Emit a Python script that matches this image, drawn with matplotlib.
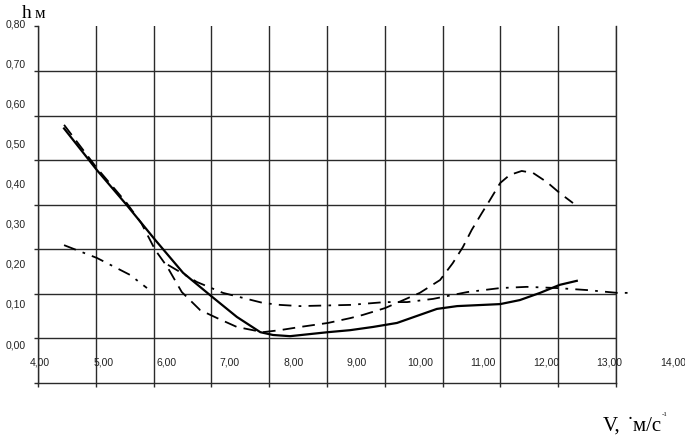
import numpy as np
import matplotlib
matplotlib.use("Agg")
import matplotlib.pyplot as plt

# ---- data ----
v_solid = [4.38, 4.90, 5.37, 5.82, 6.26, 6.72, 7.11, 7.48, 7.68, 7.95, 8.55, 8.90,
           9.26, 9.64, 10.27, 10.59, 11.27, 11.58, 11.90, 12.21, 12.48]
h_solid = [0.540, 0.436, 0.349, 0.262, 0.180, 0.120, 0.070, 0.032, 0.025, 0.022, 0.032, 0.037,
           0.045, 0.055, 0.090, 0.097, 0.102, 0.112, 0.130, 0.150, 0.160]

v_dash = [4.38, 4.90, 5.37, 5.60, 5.82, 6.01, 6.24, 6.53, 6.80, 7.11, 7.52, 7.79, 8.11,
          8.55, 8.90, 9.10, 9.45, 9.74, 10.00, 10.32, 10.52, 10.68, 10.82, 10.98, 11.11,
          11.27, 11.42, 11.61, 11.79, 12.01, 12.21, 12.42]
h_dash = [0.549, 0.441, 0.354, 0.304, 0.237, 0.195, 0.132, 0.087, 0.067, 0.045, 0.032, 0.037, 0.045,
          0.055, 0.067, 0.075, 0.092, 0.112, 0.130, 0.162, 0.204, 0.244, 0.287, 0.329, 0.362,
          0.404, 0.424, 0.434, 0.429, 0.406, 0.379, 0.354]

# dash-dot curve, broken in two pieces (nan = gap)
v_dd = [4.38, 4.90, 5.42, 5.69, np.nan, 6.02, 6.48, 6.89, 7.52, 7.79, 8.11, 8.90, 9.45,
        9.80, 10.21, 10.75, 11.27, 11.69, 12.17, 12.64, 13.12, 13.37]
h_dd = [0.249, 0.217, 0.175, 0.142, np.nan, 0.200, 0.157, 0.130, 0.105, 0.100, 0.097, 0.100, 0.107,
        0.107, 0.115, 0.132, 0.142, 0.145, 0.142, 0.137, 0.130, 0.130]

x_ticks = [4, 5, 6, 7, 8, 9, 10, 11, 12, 13, 14]
x_labels = ["4,00", "5,00", "6,00", "7,00", "8,00", "9,00", "10,00", "11,00", "12,00", "13,00", "14,00"]
y_ticks = [0.0, 0.1, 0.2, 0.3, 0.4, 0.5, 0.6, 0.7, 0.8]
y_labels = ["0,00", "0,10", "0,20", "0,30", "0,40", "0,50", "0,60", "0,70", "0,80"]

W, H = 685, 436
fig = plt.figure(figsize=(W / 100, H / 100), dpi=100)

# pixel frame of the plot area
px_l, px_r, py_t, py_b = 38, 616, 26.5, 383
ax = fig.add_axes([px_l / W, (H - py_b) / H, (px_r - px_l) / W, (py_b - py_t) / H])

# label scale: v = 4 + (px-40)/63.3 ; h = (345-py)/401
def vx(px): return 4 + (px - 40) / 63.3
def hy(py): return (345 - py) / 401

x0, x1 = vx(px_l), vx(px_r)
y0, y1 = hy(py_b), hy(py_t)
ax.set_xlim(x0, x1)
ax.set_ylim(y0, y1)

gx = np.linspace(x0, x1, 11)
gy = np.linspace(y0, y1, 9)
grid_c = "#2a2a2a"
for g in gx:
    ax.axvline(g, color=grid_c, lw=1.0, zorder=1)
for g in gy[1:-1]:
    ax.axhline(g, color=grid_c, lw=1.0, zorder=1)

ax.set_xticks(gx)
ax.set_yticks(gy)
ax.set_xticklabels([])
ax.set_yticklabels([])
ax.tick_params(direction="out", length=3, width=1, color=grid_c)
ax.spines["top"].set_visible(False)
for s in ("left", "right", "bottom"):
    ax.spines[s].set_color(grid_c)
    ax.spines[s].set_linewidth(1.0)

ax.plot(v_solid, h_solid, color="black", lw=1.6, clip_on=False, zorder=3)
ax.plot(v_dash, h_dash, color="black", lw=1.3, dashes=(7, 4), clip_on=False, zorder=3)
ax.plot(v_dd, h_dd, color="black", lw=1.3, dashes=(7, 4, 1.5, 4), clip_on=False, zorder=3)

tick_font = dict(family=["Liberation Sans", "DejaVu Sans"], fontsize=7.5, color="#222222")
for v, lab in zip(x_ticks, x_labels):
    ax.text(v, hy(362), lab, ha="center", va="center", clip_on=False, **tick_font)
for h, lab in zip(y_ticks, y_labels):
    ax.text(vx(26), h, lab, ha="right", va="center", clip_on=False, **tick_font)

serif = ["Liberation Serif", "DejaVu Serif"]
fig.text(22 / W, (H - 18) / H, "h", family=serif, fontsize=14, va="baseline", ha="left")
fig.text(35 / W, (H - 18) / H, "м", family=serif, fontsize=12, va="baseline", ha="left")

fig.text(603 / W, (H - 431) / H, "V,", family=serif, fontsize=15, va="baseline", ha="left")
fig.text(627 / W, (H - 431) / H, "˙м/с", family=serif, fontsize=15, va="baseline", ha="left")
fig.text(662 / W, (H - 416) / H, "-1", family=serif, fontsize=5, va="baseline", ha="left")

fig.savefig("out.png", dpi=100)
